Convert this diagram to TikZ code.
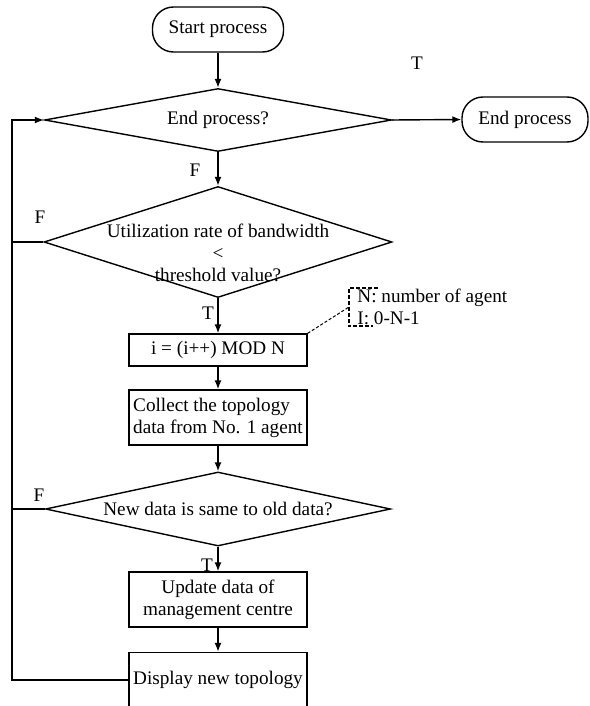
\documentclass[tikz,border=0pt]{standalone}
\usepackage{fontspec}
\setmainfont{Liberation Serif}
\usetikzlibrary{shapes.geometric, arrows.meta}

\newcommand{\lw}{0.7pt}

\tikzset{
  term/.style={draw, line width=\lw, rounded corners=10.5pt, minimum height=22.5pt},
  decision/.style={draw, line width=\lw, shape=diamond, inner sep=0pt},
  procbox/.style={draw, line width=\lw, minimum width=89pt, inner sep=2pt},
  flow/.style={line width=\lw, -{Latex[length=4.5pt, width=3.5pt]}},
  link/.style={line width=\lw},
  notelink/.style={line width=0.5pt, dash pattern=on 1.5pt off 1pt},
  bracket/.style={line width=0.9pt, dash pattern=on 2pt off 1pt},
}

\begin{document}
\begin{tikzpicture}[x=0.5pt, y=-0.5pt, font=\fontsize{9.6pt}{11pt}\selectfont]

    \useasboundingbox (0, 0) rectangle (589, 706);

    \node[term, minimum width=65.5pt] (start) at (218, 29.5) {Start process};
    \node[term, minimum width=63pt] (end) at (525, 119.5) {End process};

    \node[decision, aspect=5.5, minimum width=173.5pt, minimum height=31.5pt] (d1) at (218, 120) {End process?};
    \node[decision, minimum width=174pt, minimum height=55.5pt,
          label={[name=d2text, align=center, yshift=-5.5pt]center:{Utilization rate of bandwidth\\\textless\\threshold value?}}]
          (d2) at (218, 242) {};

    \node[procbox, minimum height=16pt] (inc) at (218, 350) {i = (i++) MOD N};
    \node[procbox, minimum height=27.5pt, align=left] (collect) at (218, 417.5) {Collect the topology\\data from No. 1 agent};

    \node[decision, aspect=4.66, minimum width=172.5pt, minimum height=37pt] (d3) at (218, 509) {New data is same to old data?};

    \node[procbox, minimum height=27.5pt, align=center] (update) at (218, 599.5) {Update data of\\management centre};
    \node[procbox, minimum height=27.5pt] (display) at (218, 680) {Display new topology};

    % note sur N et I
    \node[anchor=west, align=left, inner xsep=4pt, inner ysep=0.5pt] (note) at (349, 307) {N: number of agent\\I: 0-N-1};
    \draw[bracket] ([xshift=14.5pt]note.north west) -- (note.north west) -- (note.south west) -- ++(24, 0);
    \draw[notelink] (inc.north east) -- (note.west);

    % liaisons
    \draw[flow] (start) -- (d1);
    \draw[flow] (d1.east) -- (end.west);
    \draw[flow] (d1.south) -- (d2.north);
    \draw[flow] (d2.south) -- (inc.north);
    \draw[flow] (inc) -- (collect);
    \draw[flow] (collect) -- (d3.north);
    \draw[flow] (d3.south) -- (update.north);
    \draw[flow] (update) -- (display);

    % retour vers le debut
    \coordinate (back) at (12, 120);
    \draw[flow] (display.west) -| (back) -- (d1.west);
    \draw[link] (d2.west) -- (d2.west -| back);
    \draw[link] (d3.west) -- (d3.west -| back);

    \node (t1) at (417, 63) {T};
    \node (f1) at (195, 170) {F};
    \node (f2) at (40, 217) {F};
    \node (t2) at (208, 313) {T};
    \node (f3) at (39, 495) {F};
    \node (t3) at (207, 565) {T};

\end{tikzpicture}
\end{document}
